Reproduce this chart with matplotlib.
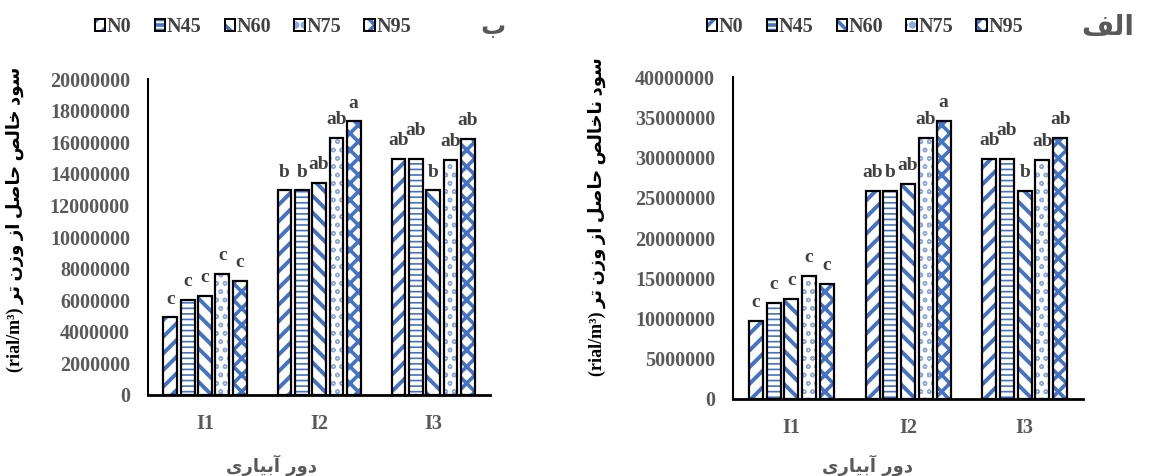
import numpy as np
import matplotlib
matplotlib.use("Agg")
import matplotlib.pyplot as plt
from matplotlib.patches import Patch

# irrigation interval groups and nitrogen levels
groups = ["I1", "I2", "I3"]
series = ["N0", "N45", "N60", "N75", "N95"]

# panel b: net profit (rial/m3)
net_N0 = [4910000, 12950000, 14940000]
net_N45 = [6030000, 12950000, 14920000]
net_N60 = [6290000, 13420000, 12950000]
net_N75 = [7660000, 16260000, 14880000]
net_N95 = [7220000, 17320000, 16190000]
net_letters = [["c", "b", "ab"], ["c", "b", "ab"], ["c", "ab", "b"],
               ["c", "ab", "ab"], ["c", "a", "ab"]]

# panel alef: gross profit (rial/m3)
gross_N0 = [9690000, 25790000, 29850000]
gross_N45 = [11920000, 25790000, 29800000]
gross_N60 = [12460000, 26740000, 25790000]
gross_N75 = [15270000, 32400000, 29700000]
gross_N95 = [14320000, 34570000, 32450000]
gross_letters = [["c", "ab", "ab"], ["c", "b", "ab"], ["c", "ab", "b"],
                 ["c", "ab", "ab"], ["c", "a", "ab"]]

BLUE = "#4472C4"
hatches = ["//", "---", "\\\\", "oo", "xx"]
hatch_colors = [BLUE, BLUE, BLUE, "#8EA9DB", BLUE]
hatch_widths = [2.8, 1.2, 2.8, 1.0, 2.6]

# minimal arabic shaping (matplotlib has no bidi / joining support)
FORMS = {
    "ا": ("\uFE8D", "\uFE8E", None, None),
    "آ": ("\uFE81", "\uFE82", None, None),
    "ب": ("\uFE8F", "\uFE90", "\uFE91", "\uFE92"),
    "ت": ("\uFE95", "\uFE96", "\uFE97", "\uFE98"),
    "ح": ("\uFEA1", "\uFEA2", "\uFEA3", "\uFEA4"),
    "خ": ("\uFEA5", "\uFEA6", "\uFEA7", "\uFEA8"),
    "د": ("\uFEA9", "\uFEAA", None, None),
    "ر": ("\uFEAD", "\uFEAE", None, None),
    "ز": ("\uFEAF", "\uFEB0", None, None),
    "س": ("\uFEB1", "\uFEB2", "\uFEB3", "\uFEB4"),
    "ص": ("\uFEB9", "\uFEBA", "\uFEBB", "\uFEBC"),
    "ف": ("\uFED1", "\uFED2", "\uFED3", "\uFED4"),
    "ل": ("\uFEDD", "\uFEDE", "\uFEDF", "\uFEE0"),
    "ن": ("\uFEE5", "\uFEE6", "\uFEE7", "\uFEE8"),
    "و": ("\uFEED", "\uFEEE", None, None),
    "ی": ("\uFEEF", "\uFEF0", "\uFEF3", "\uFEF4"),
}


def rtl(text):
    out = []
    for i, ch in enumerate(text):
        f = FORMS.get(ch)
        if f is None:
            out.append(ch)
            continue
        prev = text[i - 1] if i > 0 else ""
        nxt = text[i + 1] if i + 1 < len(text) else ""
        pj = prev in FORMS and FORMS[prev][2] is not None
        nj = f[2] is not None and nxt in FORMS
        if pj and nj:
            out.append(f[3])
        elif pj:
            out.append(f[1])
        elif nj:
            out.append(f[2])
        else:
            out.append(f[0])
    return "".join(reversed(out))


SERIF = ["Liberation Serif", "DejaVu Sans"]
ARAB = ["DejaVu Sans"]


def draw_panel(ax, values, letters, ymax, ystep, off):
    x = np.arange(len(groups))
    step, width = 0.152, 0.12
    handles = []
    prev_y = [None] * len(groups)
    for i, vals in enumerate(values):
        pos = x + (i - 2) * step
        # hatch colour / width are picked up from rcParams when the patch is made
        plt.rcParams["hatch.color"] = hatch_colors[i]
        plt.rcParams["hatch.linewidth"] = hatch_widths[i]
        b = ax.bar(pos, vals, width, color="white", hatch=hatches[i], linewidth=0)
        ax.bar(pos, vals, width, fill=False, edgecolor="black", linewidth=1.6)
        for j, (p, v, t) in enumerate(zip(pos, vals, letters[i])):
            y = v + off
            # lift a two-letter label that would collide with its neighbour
            if i > 0 and len(t) > 1 and len(letters[i - 1][j]) > 1 \
                    and abs(y - prev_y[j]) < off:
                y = prev_y[j] + off
            prev_y[j] = y
            ax.text(p, y, t, ha="center", va="bottom", fontsize=14,
                    fontweight="bold", color="#404040", family=SERIF)
        handles.append((b[0], Patch(fill=False, edgecolor="black", linewidth=1.4)))
    ax.set_xlim(-0.5, 2.5)
    ax.set_ylim(0, ymax)
    ax.set_yticks(np.arange(0, ymax + 1, ystep))
    ax.set_yticklabels([str(int(v)) for v in np.arange(0, ymax + 1, ystep)])
    ax.set_xticks(x)
    ax.set_xticklabels(groups)
    ax.tick_params(length=0, labelsize=14.5, labelcolor="#595959")
    ax.tick_params(axis="y", pad=13)
    ax.tick_params(axis="x", pad=14)
    for lab in ax.get_xticklabels() + ax.get_yticklabels():
        lab.set_fontweight("bold")
        lab.set_family(SERIF)
    ax.spines["top"].set_visible(False)
    ax.spines["right"].set_visible(False)
    ax.spines["left"].set_linewidth(1.5)
    ax.spines["bottom"].set_linewidth(2.0)
    return handles


fig = plt.figure(figsize=(11.49, 4.76), dpi=100)
ax1 = fig.add_axes([0.1288, 0.1702, 0.2977, 0.6638])
ax2 = fig.add_axes([0.6380, 0.1618, 0.3046, 0.6764])

h1 = draw_panel(ax1, [net_N0, net_N45, net_N60, net_N75, net_N95],
                net_letters, 20000000, 2000000, 620000)
h2 = draw_panel(ax2, [gross_N0, gross_N45, gross_N60, gross_N75, gross_N95],
                gross_letters, 40000000, 5000000, 1250000)

for ax, h, cx in [(ax1, h1, 253 / 1149), (ax2, h2, 865 / 1149)]:
    fig.legend(h, series, loc="center", bbox_to_anchor=(cx, 0.943), ncol=5,
               frameon=False, handlelength=0.5, handleheight=0.5,
               handletextpad=0.1, columnspacing=1.15,
               prop={"family": SERIF, "weight": "bold", "size": 14.5},
               labelcolor="#404040")

# panel letters
fig.text(493 / 1149, 0.943, rtl("ب"), ha="center", va="center", fontsize=18,
         fontweight="bold", color="#595959", family=ARAB)
fig.text(1108 / 1149, 0.943, rtl("الف"), ha="center", va="center", fontsize=20,
         fontweight="bold", color="#595959", family=ARAB)

# y labels
fig.text(15 / 1149, 0.54, "(rial/m³) " + rtl("سود خالص حاصل از وزن تر"),
         rotation=90, ha="center", va="center", fontsize=13, fontweight="bold",
         family=SERIF)
fig.text(597 / 1149, 0.545, "(rial/m³) " + rtl("سود ناخالص حاصل از وزن تر"),
         rotation=90, ha="center", va="center", fontsize=13, fontweight="bold",
         family=SERIF)

# x labels
fig.text(272 / 1149, 1 - 465 / 476, rtl("دور آبیاری"), ha="center", va="center",
         fontsize=13, fontweight="bold", color="#595959", family=ARAB)
fig.text(867 / 1149, 1 - 465 / 476, rtl("دور آبیاری"), ha="center", va="center",
         fontsize=13, fontweight="bold", color="#595959", family=ARAB)

fig.savefig("out.png", dpi=100)
